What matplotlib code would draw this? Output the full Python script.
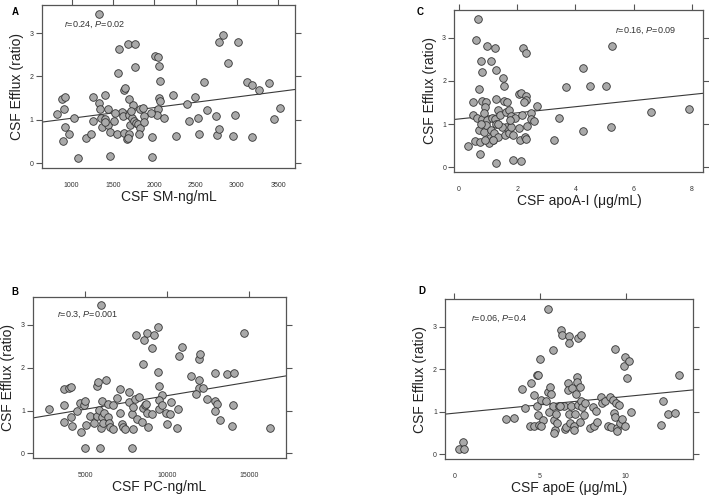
import numpy as np
import matplotlib

matplotlib.use('Agg')
import matplotlib.pyplot as plt

plt.rcParams['font.family'] = ['Liberation Sans', 'DejaVu Sans']
plt.rcParams['mathtext.fontset'] = 'custom'
plt.rcParams['mathtext.rm'] = 'Liberation Sans'
plt.rcParams['mathtext.it'] = 'Liberation Sans:italic'

efflux_label = 'CSF Efflux (ratio)'

# panel A: CSF SM vs efflux
sm_x = [1335, 1577, 1685, 1766, 1565, 1766, 2008, 2040, 2060, 2073, 2060, 2069, 2048, 2028, 2121,
        1960, 1968, 1976, 2230, 2262, 2395, 2419, 2488, 2524, 2544, 2601, 2633, 2746, 2758, 2778,
        2786, 2835, 2891, 2976, 2956, 3012, 3121, 3177, 3177, 3270, 3391, 3448, 3516, 823, 883,
        927, 907, 919, 899, 972, 1032, 1077, 1177, 1230, 1254, 1262, 1327, 1343, 1351, 1367, 1399,
        1407, 1444, 1444, 1464, 1464, 1516, 1552, 1605, 1617, 1633, 1649, 1637, 1673, 1690, 1698,
        1690, 1710, 1726, 1738, 1758, 1685, 1778, 1806, 1827, 1819, 1827, 1859, 1879, 1879, 1403,
        1524, 1718]
sm_y = [3.44, 2.64, 2.76, 2.76, 2.08, 2.21, 2.47, 2.45, 2.25, 1.90, 1.51, 1.43, 1.24, 1.12, 1.04,
        1.15, 0.61, 0.14, 1.56, 0.62, 1.36, 0.96, 1.53, 1.05, 0.68, 1.88, 1.22, 1.08, 0.65, 0.78,
        2.80, 2.95, 2.32, 1.12, 0.62, 2.80, 1.88, 1.81, 0.61, 1.69, 1.85, 1.01, 1.28, 1.13, 1.49,
        1.52, 1.24, 0.84, 0.50, 0.66, 1.05, 0.12, 0.57, 0.68, 1.53, 0.97, 1.38, 1.25, 1.04, 0.84,
        1.02, 1.56, 1.25, 0.89, 0.72, 0.16, 0.97, 0.68, 1.19, 1.08, 1.68, 1.74, 0.70, 0.56, 0.68,
        1.49, 1.11, 0.88, 1.05, 1.33, 0.97, 0.58, 0.92, 0.91, 0.82, 0.66, 1.24, 1.27, 1.08, 0.95,
        0.95, 1.16, 1.20]

# panel B: CSF PC vs efflux
pc_x = [5994, 8103, 8590, 8752, 9219, 9422, 9077, 8509, 10720, 10903, 9462, 9483, 9665, 9483,
        9523, 9686, 9929, 10213, 10172, 9970, 10578, 10659, 11450, 11917, 12018, 11937, 11937,
        12180, 11755, 12444, 12931, 13621, 14067, 12931, 13032, 12931, 13235, 13966, 14006, 14675,
        16258, 2789, 3722, 4047, 4148, 3722, 3722, 4148, 4229, 4533, 4696, 4777, 4959, 5000, 5041,
        5000, 5304, 5527, 5710, 5751, 5791, 5852, 5933, 5974, 6014, 6055, 6095, 6156, 6298, 6379,
        6420, 6460, 6521, 6684, 6684, 6968, 7130, 7150, 7252, 7333, 7454, 7657, 7698, 7840, 7840,
        7941, 8043, 7901, 8164, 8306, 8448, 8509, 8651, 8752, 8834, 9057, 8712]
pc_y = [3.45, 2.76, 2.64, 2.81, 2.77, 2.95, 2.46, 2.08, 2.26, 2.47, 1.89, 1.56, 1.36, 1.24, 1.04,
        1.12, 0.95, 1.20, 0.93, 0.68, 0.60, 1.04, 1.80, 2.20, 2.31, 1.70, 1.53, 1.53, 1.39, 1.28,
        1.88, 1.84, 1.88, 1.22, 1.15, 1.00, 0.78, 0.65, 1.12, 2.81, 0.60, 1.04, 1.50, 1.53, 1.54,
        1.12, 0.73, 0.85, 0.65, 0.98, 1.18, 0.50, 1.12, 1.22, 0.67, 0.12, 0.88, 0.72, 0.88, 1.58,
        1.67, 1.01, 0.12, 0.59, 1.22, 0.85, 0.70, 0.95, 1.72, 1.15, 0.85, 0.70, 0.62, 1.12, 0.57,
        1.29, 1.49, 0.95, 0.69, 0.62, 0.56, 1.43, 1.21, 0.91, 0.12, 0.56, 1.27, 1.09, 0.81, 1.32,
        0.73, 1.05, 1.12, 0.95, 0.62, 0.91, 1.16]

# panel C: CSF apoA-I vs efflux
apoa_x = [0.66, 0.57, 0.97, 1.24, 0.76, 1.09, 0.80, 1.28, 1.50, 1.55, 0.69, 2.21, 2.29, 0.47,
          0.80, 0.92, 0.88, 1.28, 1.55, 1.66, 0.49, 0.62, 0.78, 0.86, 0.95, 1.13, 1.24, 1.33, 1.41,
          1.60, 1.72, 1.78, 1.91, 2.05, 2.14, 2.31, 2.30, 2.23, 2.17, 2.48, 2.68, 2.46, 2.56, 2.34,
          0.31, 0.56, 0.70, 0.72, 0.73, 0.86, 0.93, 1.07, 1.16, 1.10, 1.20, 1.27, 1.34, 1.27, 1.57,
          1.62, 1.70, 1.79, 1.87, 1.86, 2.05, 2.10, 2.14, 2.27, 2.29, 3.26, 3.44, 3.66, 4.25, 4.25,
          4.50, 5.05, 5.25, 5.24, 6.60, 7.89, 1.46, 1.02, 1.75, 1.35, 0.74, 0.89, 1.18]
apoa_y = [3.44, 2.95, 2.81, 2.76, 2.47, 2.46, 2.21, 2.26, 2.07, 1.88, 1.81, 2.77, 2.65, 1.52,
          1.54, 1.51, 1.40, 1.58, 1.54, 1.51, 1.22, 1.13, 1.11, 1.25, 1.09, 1.15, 1.11, 1.32, 1.21,
          1.27, 1.32, 1.18, 1.13, 1.69, 1.73, 1.66, 1.56, 1.52, 1.21, 1.25, 1.42, 1.11, 1.06, 0.95,
          0.49, 0.61, 0.86, 0.30, 0.58, 0.82, 0.97, 0.68, 0.62, 0.87, 0.80, 1.01, 0.70, 0.10, 0.74,
          0.92, 0.80, 0.94, 0.74, 0.16, 0.91, 0.64, 0.14, 0.70, 0.65, 0.62, 1.13, 1.85, 2.31, 0.83,
          1.88, 1.89, 2.81, 0.92, 1.28, 1.36, 0.94, 0.55, 1.09, 0.99, 1.00, 0.62, 0.62]

# panel D: CSF apoE vs efflux
apoe_x = [0.29, 0.47, 0.56, 3.00, 3.46, 3.95, 4.11, 4.42, 4.49, 4.65, 4.65, 4.81, 4.88, 4.84,
          4.88, 4.96, 5.02, 5.04, 5.16, 5.35, 5.47, 5.45, 5.51, 5.58, 5.66, 5.74, 5.78, 5.82, 5.86,
          5.82, 5.93, 6.01, 6.09, 6.19, 6.25, 6.40, 6.46, 6.52, 6.60, 6.60, 6.67, 6.71, 6.71, 6.75,
          6.79, 6.87, 6.95, 7.00, 7.02, 7.10, 7.14, 7.14, 7.24, 7.37, 7.22, 7.33, 7.33, 7.41, 7.45,
          7.57, 7.63, 7.92, 8.11, 8.17, 8.27, 8.35, 8.54, 8.62, 8.77, 8.97, 9.09, 9.13, 9.28, 9.34,
          9.38, 9.38, 9.44, 9.51, 9.51, 9.63, 9.67, 9.79, 9.90, 9.98, 10.06, 10.18, 9.98, 10.31,
          12.08, 12.18, 12.47, 12.90, 13.09, 5.06, 6.17]
apoe_y = [0.12, 0.30, 0.14, 0.84, 0.86, 1.53, 1.10, 0.68, 1.69, 1.39, 0.68, 1.88, 1.87, 1.15,
          0.92, 0.69, 2.25, 1.29, 0.82, 1.26, 3.43, 1.48, 1.01, 1.58, 1.43, 1.15, 2.45, 0.82, 0.58,
          0.51, 0.96, 0.74, 1.14, 2.92, 2.80, 1.13, 0.60, 0.65, 1.67, 1.52, 2.78, 2.62, 0.95, 0.74,
          1.13, 1.56, 0.66, 0.58, 0.95, 1.43, 1.83, 1.71, 2.75, 2.80, 1.16, 1.59, 0.76, 1.25, 1.11,
          0.93, 1.21, 0.63, 1.11, 0.66, 1.02, 0.76, 1.36, 1.22, 1.25, 0.68, 1.36, 0.64, 1.29, 0.97,
          2.47, 0.88, 1.21, 0.62, 0.56, 1.17, 0.74, 0.83, 2.08, 2.30, 1.81, 2.20, 0.68, 1.00,
          0.69, 1.26, 0.95, 0.97, 1.88, 0.68, 1.13]

# fitted lines: (intercept, slope)
fit_sm = (0.788, 0.000246)
fit_pc = (0.711, 6.36e-5)
fit_apoa = (1.118, 0.071)
fit_apoe = (0.971, 0.0393)

panels = [
    # letter, x, y, fit, xlabel, xticks, xlim, annotation, rect, text pos, letter pos
    ('A', sm_x, sm_y, fit_sm, 'CSF SM-ng/mL', [1000, 1500, 2000, 2500, 3000, 3500], (641, 3702),
     r'$\it{r}$=0.24, $\it{P}$=0.02', [0.059, 0.663, 0.357, 0.327], (0.087, 0.877), (0.022, 0.985)),
    ('B', pc_x, pc_y, fit_pc, 'CSF PC-ng/mL', [5000, 10000, 15000], (1853, 17215),
     r'$\it{r}$=0.3, $\it{P}$=0.001', [0.047, 0.080, 0.356, 0.324], (0.095, 0.887), (0.021, 0.424)),
    ('C', apoa_x, apoa_y, fit_apoa, 'CSF apoA-I (\u03bcg/mL)', [0, 2, 4, 6, 8], (-0.16, 8.4),
     r'$\it{r}$=0.16, $\it{P}$=0.09', [0.641, 0.655, 0.351, 0.325], (0.645, 0.872), (0.592, 0.985)),
    ('D', apoe_x, apoe_y, fit_apoe, 'CSF apoE (\u03bcg/mL)', [0, 5, 10], (-0.54, 13.95),
     r'$\it{r}$=0.06, $\it{P}$=0.4', [0.628, 0.078, 0.350, 0.321], (0.105, 0.877), (0.595, 0.426)),
]

fig = plt.figure(figsize=(7.09, 4.98), dpi=100)
frame_col = '#555555'

for letter, xs, ys, fit, xlabel, xticks, xlim, note, rect, tpos, lpos in panels:
    ax = fig.add_axes(rect)
    ax.scatter(xs, ys, s=30, facecolor='#a9a9a9', edgecolor='#333333', linewidths=0.6, zorder=3)
    xx = np.array(xlim)
    ax.plot(xx, fit[0] + fit[1] * xx, color='#3a3a3a', lw=0.8, zorder=2)
    ax.set_xlim(*xlim)
    ax.set_ylim(-0.11, 3.65)
    ax.set_xticks(xticks)
    ax.set_yticks([0, 1, 2, 3])
    ax.tick_params(axis='both', direction='out', length=4, width=0.8, color=frame_col,
                   labelsize=5, labelcolor='#333333', top=True, right=True)
    ax.tick_params(axis='x', which='major', bottom=False, pad=6)
    ax.tick_params(axis='y', pad=2)
    for sp in ax.spines.values():
        sp.set_color(frame_col)
        sp.set_linewidth(0.9)
    ax.set_xlabel(xlabel, fontsize=10, color='#222222', labelpad=1)
    ax.set_ylabel(efflux_label, fontsize=10, color='#222222', labelpad=4)
    ax.text(tpos[0], tpos[1], note, transform=ax.transAxes, fontsize=6.5, color='#333333',
            va='center', ha='left')
    fig.text(lpos[0], lpos[1], letter, fontsize=7, fontweight='bold', va='top', ha='center')

fig.savefig('out.png', dpi=100)
